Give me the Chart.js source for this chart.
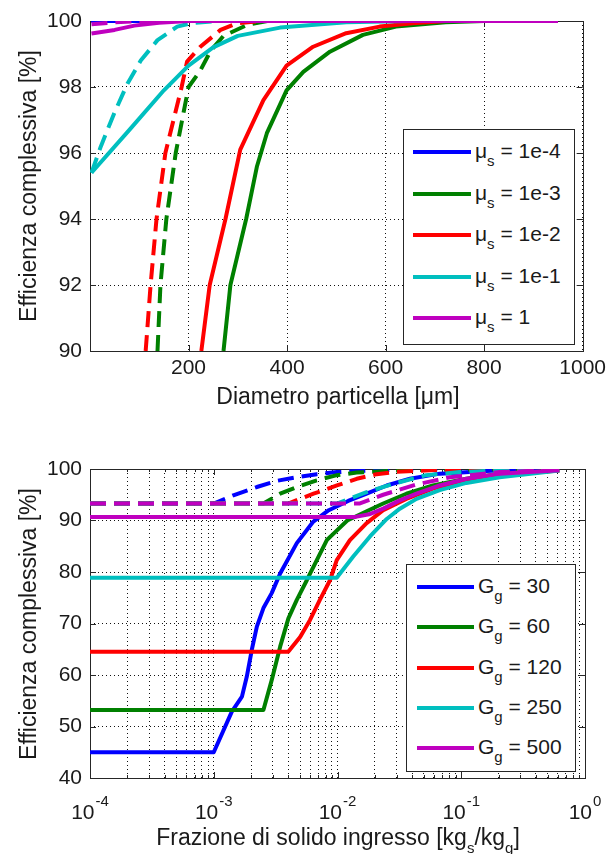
<!DOCTYPE html>
<html><head><meta charset="utf-8">
<script src="https://cdn.jsdelivr.net/npm/chart.js@4.4.0/dist/chart.umd.min.js"></script>
<style>
html,body{margin:0;padding:0;background:#fff;}
body{width:611px;height:854px;overflow:hidden;position:relative;font-family:"Liberation Sans",Arial,sans-serif;color:#1a1a1a;}
canvas{position:absolute;left:0;}
#c1{top:0;}
#c2{top:420px;}
.t{position:absolute;white-space:nowrap;font-size:23px;line-height:23px;}
.sub{font-size:15px;position:relative;top:8px;}
.leg{position:absolute;background:#fff;border:1px solid #262626;box-sizing:border-box;}
.row{position:absolute;white-space:nowrap;font-size:21px;line-height:21px;}
.ln{position:absolute;height:4px;}
</style>
</head><body>
<canvas id="c1" width="611" height="420"></canvas>
<canvas id="c2" width="611" height="434"></canvas>
<div id="overlay"></div>
<script>
// ---------------- DATA ----------------
const seriesColors = ['#0000ff', '#008000', '#ff0000', '#00bfbf', '#bf00bf'];

// Top chart: efficiency vs particle diameter
const topXTicks = [0, 200, 400, 600, 800, 1000];
const topYTicks = [90, 92, 94, 96, 98, 100];
const muLabels = ['1e-4', '1e-3', '1e-2', '1e-1', '1'];
const mu4Solid  = [[3,100],[950,100]];
const mu4Dashed = [[3,100],[950,100]];
const mu3Solid  = [[271,90],[285,92],[317,94],[339,95.6],[359,96.6],[399,97.9],[433,98.46],[487,99.07],[554,99.58],[621,99.83],[722,99.96],[800,100],[950,100]];
const mu3Dashed = [[137,90],[143,92],[155,94],[174,96],[200,98],[224,98.5],[245,99.1],[271,99.55],[319,99.88],[360,100],[950,100]];
const mu2Solid  = [[226,90],[243,92],[275,94],[305,96.1],[352,97.6],[399,98.65],[453,99.22],[520,99.63],[588,99.83],[655,99.93],[722,100],[950,100]];
const mu2Dashed = [[113,90],[123,92],[135,94],[153,96],[186,98],[197,98.77],[224,99.22],[265,99.73],[298,99.93],[350,100],[950,100]];
const mu1Solid  = [[3,95.4],[80,96.7],[150,97.9],[200,98.65],[250,99.2],[300,99.55],[386,99.8],[520,99.96],[650,100],[950,100]];
const mu1Dashed = [[3,95.4],[22,96.2],[49,97.2],[76,98.1],[103,98.8],[137,99.42],[177,99.83],[204,99.93],[260,100],[950,100]];
const mu0Solid  = [[3,99.62],[50,99.73],[90,99.86],[140,99.95],[200,100],[950,100]];
const mu0Dashed = [[3,99.9],[50,99.96],[100,100],[950,100]];

// Bottom chart: efficiency vs inlet solid fraction
const bottomDecades = [-4, -3, -2, -1, 0];
const bottomYTicks = [40, 50, 60, 70, 80, 90, 100];
const gLabels = ['30', '60', '120', '250', '500'];
const g30Solid  = [[1e-4,45],[1e-3,45],[1.4e-3,52.9],[1.69e-3,55.8],[1.85e-3,59.7],[2.03e-3,64.9],[2.23e-3,69.4],[2.52e-3,73.0],[2.94e-3,75.9],[3.44e-3,79.7],[4.69e-3,85.6],[6.38e-3,89.8],[8.5e-3,92.0],[1.22e-2,93.8],[1.72e-2,95.2],[2.5e-2,96.8],[3.85e-2,98.1],[6.7e-2,99.1],[0.204,99.75],[0.62,99.94]];
const g60Solid  = [[1e-4,53.2],[2.52e-3,53.2],[2.94e-3,59.0],[3.44e-3,65.5],[4.01e-3,71.0],[4.69e-3,74.6],[5.65e-3,78.4],[6.0e-3,79.7],[8.2e-3,86.2],[9.25e-3,87.4],[1.2e-2,90.0],[1.72e-2,91.8],[2.34e-2,93.3],[3.6e-2,95.2],[5.9e-2,96.8],[0.11,98.1],[0.204,99.1],[0.62,99.7]];
const g120Solid = [[1e-4,64.5],[4.0e-3,64.5],[4.99e-3,67.4],[6.0e-3,70.7],[7.2e-3,74.6],[8.7e-3,78.4],[9.86e-3,82.3],[1.26e-2,86.2],[1.72e-2,89.5],[2.34e-2,92.0],[3.6e-2,94.2],[5.9e-2,96.2],[0.11,97.8],[0.204,98.8],[0.62,99.7]];
const g250Solid = [[1e-4,78.9],[9.86e-3,78.9],[1.34e-2,83.0],[1.83e-2,86.9],[2.5e-2,90.3],[3.19e-2,92.3],[4.35e-2,94.2],[6.7e-2,95.9],[0.11,97.3],[0.204,98.4],[0.62,99.7]];
const g500Solid = [[1e-4,90.7],[1.4e-2,90.7],[1.8e-2,91.2],[2.34e-2,92.3],[3.19e-2,93.9],[4.35e-2,95.2],[6.7e-2,96.8],[0.11,98.1],[0.204,99.1],[0.62,99.75]];
const g30Dashed  = [[1e-4,93.3],[1e-3,93.3],[1.44e-3,94.9],[2.23e-3,96.5],[3.23e-3,97.7],[4.69e-3,98.4],[6.8e-3,99.0],[9.9e-3,99.4],[2e-2,99.75],[5e-2,99.92],[0.2,99.98],[0.62,100]];
const g60Dashed  = [[1e-4,93.3],[2.52e-3,93.3],[3.44e-3,95.2],[4.69e-3,96.5],[6.8e-3,97.8],[9.9e-3,98.8],[1.43e-2,99.3],[3e-2,99.7],[8e-2,99.9],[0.62,100]];
const g120Dashed = [[1e-4,93.3],[4.0e-3,93.3],[6.4e-3,95.2],[9.9e-3,96.8],[1.43e-2,98.1],[2.07e-2,99.0],[3e-2,99.45],[6e-2,99.8],[0.2,99.95],[0.62,100]];
const g250Dashed = [[1e-4,93.3],[9.9e-3,93.3],[1.72e-2,95.5],[2.8e-2,97.1],[5.2e-2,98.8],[9.7e-2,99.4],[0.3,99.85],[0.62,99.95]];
const g500Dashed = [[1e-4,93.3],[1.5e-2,93.3],[2.34e-2,95.0],[4.35e-2,97.0],[8.1e-2,98.4],[0.204,99.4],[0.62,99.85]];

// ---------------- BUILD ----------------
Chart.defaults.font.family = '"Liberation Sans", Arial, sans-serif';
const FONT = '"Liberation Sans", Arial, sans-serif';
const TEXT = '#1a1a1a';
const DASH = [16, 8];

function makeSets(solids, dashes) {
  const sets = [];
  const n = solids.length * 2;
  solids.forEach((s, i) => {
    [[s, []], [dashes[i], DASH]].forEach(([arr, dash], j) => {
      const idx = i * 2 + j;
      sets.push({
        data: arr.map(([x, y]) => ({x, y})),
        borderColor: seriesColors[i],
        borderWidth: 4,
        borderDash: dash,
        borderCapStyle: 'butt',
        borderJoinStyle: 'round',
        pointRadius: 0,
        tension: 0,
        fill: false,
        order: n - idx
      });
    });
  });
  return sets;
}

const framePlugin = {
  id: 'frame',
  beforeDatasetsDraw(chart) {
    const {ctx, chartArea: a} = chart;
    const xs = chart.scales.x, ys = chart.scales.y;
    ctx.save();
    ctx.setLineDash([]);
    ctx.strokeStyle = '#262626';
    ctx.lineWidth = 1;
    ctx.beginPath();
    xs.ticks.forEach(t => {
      const len = t.minorTick ? 3 : 6;
      const p = Math.round(xs.getPixelForValue(t.value)) + 0.5;
      ctx.moveTo(p, a.bottom); ctx.lineTo(p, a.bottom - len);
      ctx.moveTo(p, a.top); ctx.lineTo(p, a.top + len);
    });
    ys.ticks.forEach(t => {
      const p = Math.round(ys.getPixelForValue(t.value)) + 0.5;
      ctx.moveTo(a.left, p); ctx.lineTo(a.left + 6, p);
      ctx.moveTo(a.right, p); ctx.lineTo(a.right - 6, p);
    });
    ctx.stroke();
    ctx.strokeRect(Math.round(a.left) + 0.5, Math.round(a.top) + 0.5,
                   Math.round(a.right - a.left), Math.round(a.bottom - a.top));
    ctx.restore();
  }
};

const gridOpts = {color: '#111', lineWidth: 1, drawTicks: false};
const borderOpts = {display: false, dash: [1, 3]};
const tickFont = {family: FONT, size: 21};

// Top chart
new Chart(document.getElementById('c1'), {
  type: 'line',
  data: {datasets: makeSets([mu4Solid, mu3Solid, mu2Solid, mu1Solid, mu0Solid],
                            [mu4Dashed, mu3Dashed, mu2Dashed, mu1Dashed, mu0Dashed])},
  options: {
    responsive: false, animation: false, devicePixelRatio: 1,
    layout: {padding: {top: 21, right: 26, left: 0, bottom: 0}},
    plugins: {legend: {display: false}, tooltip: {enabled: false}},
    scales: {
      x: {
        type: 'linear', min: 0, max: 1000,
        afterBuildTicks: ax => { ax.ticks = topXTicks.map(v => ({value: v})); },
        afterFit: s => { s.height = 69; },
        ticks: {callback: v => v === 0 ? '' : String(v), font: tickFont, color: TEXT,
                padding: 5, maxRotation: 0, autoSkip: false},
        grid: gridOpts, border: borderOpts
      },
      y: {
        type: 'linear', min: 90, max: 100,
        afterBuildTicks: ax => { ax.ticks = topYTicks.map(v => ({value: v})); },
        afterFit: s => { s.width = 90; },
        ticks: {font: tickFont, color: TEXT, padding: 8, autoSkip: false},
        grid: gridOpts, border: borderOpts
      }
    }
  },
  plugins: [framePlugin]
});

// Bottom chart
const logTicks = [];
bottomDecades.forEach(e => {
  const maxM = e === 0 ? 1 : 9;
  for (let m = 1; m <= maxM; m++) logTicks.push({value: m * Math.pow(10, e), major: m === 1, minorTick: m !== 1});
});

const powerLabels = {
  id: 'powerLabels',
  afterDraw(chart) {
    const {ctx} = chart;
    const xs = chart.scales.x;
    const yBase = chart.chartArea.bottom + 41;
    ctx.save();
    ctx.fillStyle = TEXT;
    ctx.textBaseline = 'alphabetic';
    bottomDecades.forEach(e => {
      const px = xs.getPixelForValue(Math.pow(10, e));
      const base = '10', ex = String(e);
      ctx.font = '21px ' + FONT;
      const wb = ctx.measureText(base).width;
      ctx.font = '15px ' + FONT;
      const we = ctx.measureText(ex).width;
      const x0 = px - (wb + we + 1) / 2;
      ctx.font = '21px ' + FONT;
      ctx.fillText(base, x0, yBase);
      ctx.font = '15px ' + FONT;
      ctx.fillText(ex, x0 + wb + 1, yBase - 13);
    });
    ctx.restore();
  }
};

new Chart(document.getElementById('c2'), {
  type: 'line',
  data: {datasets: makeSets([g30Solid, g60Solid, g120Solid, g250Solid, g500Solid],
                            [g30Dashed, g60Dashed, g120Dashed, g250Dashed, g500Dashed])},
  options: {
    responsive: false, animation: false, devicePixelRatio: 1,
    layout: {padding: {top: 49, right: 26, left: 0, bottom: 0}},
    plugins: {legend: {display: false}, tooltip: {enabled: false}},
    scales: {
      x: {
        type: 'logarithmic', min: 1e-4, max: 1,
        afterBuildTicks: ax => { ax.ticks = logTicks.map(t => Object.assign({}, t)); },
        afterFit: s => { s.height = 76; },
        ticks: {callback: () => '', autoSkip: false, maxRotation: 0, font: tickFont},
        grid: gridOpts, border: borderOpts
      },
      y: {
        type: 'linear', min: 40, max: 100,
        afterBuildTicks: ax => { ax.ticks = bottomYTicks.map(v => ({value: v})); },
        afterFit: s => { s.width = 90; },
        ticks: {font: tickFont, color: TEXT, padding: 8, autoSkip: false},
        grid: gridOpts, border: borderOpts
      }
    }
  },
  plugins: [framePlugin, powerLabels]
});

// ---------------- TEXT OVERLAYS (titles, legends) ----------------
const ov = document.getElementById('overlay');
function addText(html, cx, cy, rotate) {
  const d = document.createElement('div');
  d.className = 't';
  d.innerHTML = html;
  d.style.left = cx + 'px';
  d.style.top = cy + 'px';
  d.style.transform = 'translate(-50%,-50%)' + (rotate ? ' rotate(-90deg)' : '');
  ov.appendChild(d);
}
addText('Efficienza complessiva [%]', 28, 186, true);
addText('Diametro particella [\u03bcm]', 338, 396, false);
addText('Efficienza complessiva [%]', 28, 624, true);
addText('Frazione di solido ingresso [kg<span class="sub">s</span>/kg<span class="sub">g</span>]', 338, 838, false);

function addLegend(box, labels, symbol, sym2, firstY, step, lineX, lineW, textX) {
  const b = document.createElement('div');
  b.className = 'leg';
  Object.assign(b.style, {left: box[0] + 'px', top: box[1] + 'px', width: box[2] + 'px', height: box[3] + 'px'});
  ov.appendChild(b);
  labels.forEach((lab, i) => {
    const y = firstY + i * step;
    const ln = document.createElement('div');
    ln.className = 'ln';
    Object.assign(ln.style, {left: lineX + 'px', top: (y - 2) + 'px', width: lineW + 'px', background: seriesColors[i]});
    ov.appendChild(ln);
    const r = document.createElement('div');
    r.className = 'row';
    r.innerHTML = symbol + '<span class="sub">' + sym2 + '</span> = ' + lab;
    Object.assign(r.style, {left: textX + 'px', top: (y - 12) + 'px'});
    ov.appendChild(r);
  });
}
addLegend([403, 129, 172, 216], muLabels, '\u03bc', 's', 152, 41.5, 413, 58, 475);
addLegend([406, 564, 170, 208], gLabels, 'G', 'g', 587, 40.25, 417, 57, 478);
</script>
</body></html>
